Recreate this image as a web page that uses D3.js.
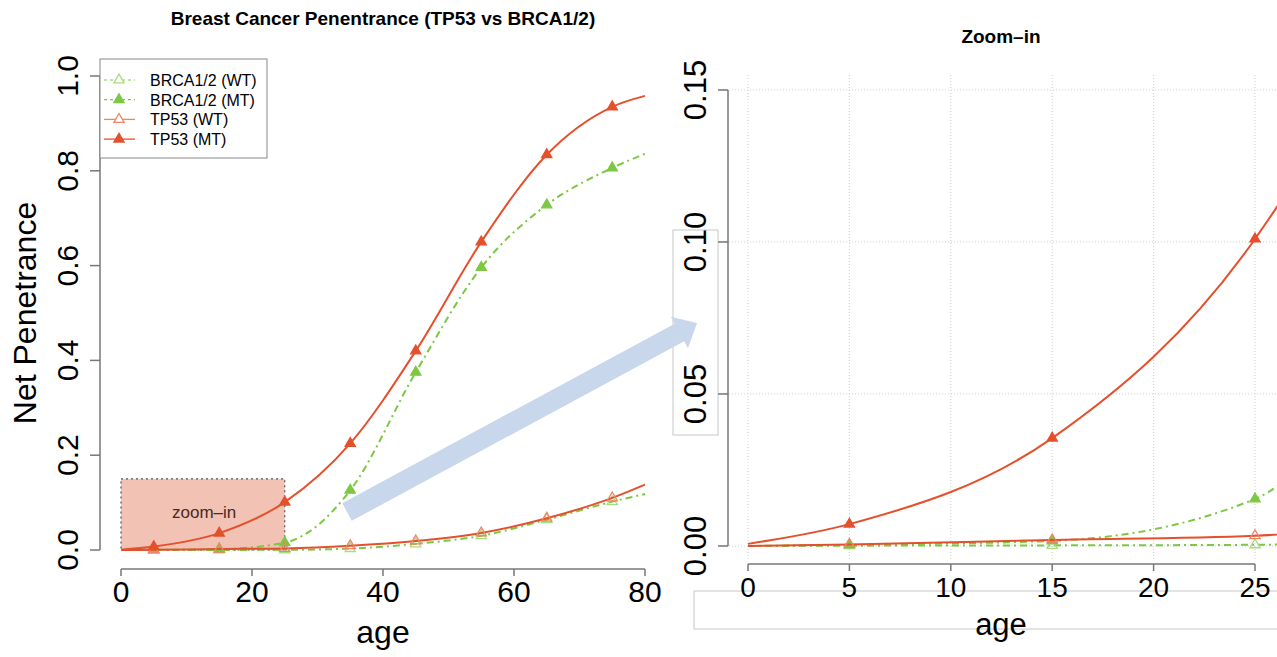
<!DOCTYPE html>
<html>
<head>
<meta charset="utf-8">
<script src="https://cdn.jsdelivr.net/npm/d3@7"></script>
<style>
body { margin: 0; background: #fff; }
text { font-family: "Liberation Sans", Arial, Helvetica, sans-serif; }
</style>
</head>
<body>
<div class="main"></div>
<script>
// data (age -> net penetrance)
var ages = [0, 5, 15, 25, 35, 45, 55, 65, 75, 80];
var markerAges = [5, 15, 25, 35, 45, 55, 65, 75];
var brcaWT = [0, 0.0001, 0.0002, 0.0004, 0.003, 0.013, 0.030, 0.064, 0.102, 0.118];
var brcaMT = [0, 0.0004, 0.0017, 0.0155, 0.126, 0.375, 0.596, 0.728, 0.806, 0.836];
var tp53WT = [0, 0.0005, 0.002, 0.0034, 0.009, 0.019, 0.036, 0.067, 0.110, 0.138];
var tp53MT = [0.0007, 0.0072, 0.0355, 0.101, 0.225, 0.42, 0.65, 0.834, 0.935, 0.958];
var legendLabels = ["BRCA1/2 (WT)", "BRCA1/2 (MT)", "TP53 (WT)", "TP53 (MT)"];
var leftXTicks = [0, 20, 40, 60, 80];
var leftYTicks = [0, 0.2, 0.4, 0.6, 0.8, 1.0];
var rightXTicks = [0, 5, 10, 15, 20, 25];
var rightYTicks = [0, 0.05, 0.10, 0.15];

var red = "#e5502c", redLight = "#ef8467", green = "#7cc843", greenLight = "#a9dc80";
var dotDash = "7,4,2,4";

var series = [
	{name: legendLabels[0], values: brcaWT, color: green, mcolor: greenLight, open: true, dash: dotDash},
	{name: legendLabels[1], values: brcaMT, color: green, mcolor: green, open: false, dash: dotDash},
	{name: legendLabels[2], values: tp53WT, color: red, mcolor: redLight, open: true, dash: null},
	{name: legendLabels[3], values: tp53MT, color: red, mcolor: red, open: false, dash: null}
];

var width = 1277, height = 657;
var svg = d3.select(".main").append("svg")
	.attr("width", width)
	.attr("height", height);

// scales for both panels
var xLeft = d3.scaleLinear().domain([0, 80]).range([121, 645]);
var yLeft = d3.scaleLinear().domain([0, 1]).range([550, 76]);
var xRight = d3.scaleLinear().domain([0, 25]).range([748, 1255]);
var yRight = d3.scaleLinear().domain([0, 0.15]).range([546, 90]);

var defs = svg.append("defs");
defs.append("clipPath").attr("id", "clipLeft")
	.append("rect").attr("x", 100).attr("y", 60).attr("width", 560).attr("height", 500);
defs.append("clipPath").attr("id", "clipRight")
	.append("rect").attr("x", 728).attr("y", 70).attr("width", 560).attr("height", 485);

// odd boxes that sit in the picture (from the screenshot)
svg.append("rect").attr("x", 673).attr("y", 230).attr("width", 45).attr("height", 205)
	.attr("fill", "none").attr("stroke", "#c8c8c8").attr("stroke-width", 1);
svg.append("rect").attr("x", 694).attr("y", 591).attr("width", 600).attr("height", 38)
	.attr("fill", "none").attr("stroke", "#c8c8c8").attr("stroke-width", 1);

// right panel grid
var grid = svg.append("g").attr("class", "grid");
grid.selectAll("line.v").data(rightXTicks).enter().append("line")
	.attr("x1", function(d) { return xRight(d); }).attr("x2", function(d) { return xRight(d); })
	.attr("y1", 75).attr("y2", 560)
	.attr("stroke", "#cfcfcf").attr("stroke-dasharray", "1,2");
grid.selectAll("line.h").data(rightYTicks).enter().append("line")
	.attr("x1", 720).attr("x2", 1277)
	.attr("y1", function(d) { return yRight(d); }).attr("y2", function(d) { return yRight(d); })
	.attr("stroke", "#cfcfcf").attr("stroke-dasharray", "1,2");

// zoom-in box on the left panel
svg.append("rect")
	.attr("x", xLeft(0)).attr("y", yLeft(0.15))
	.attr("width", xLeft(25) - xLeft(0)).attr("height", yLeft(0) - yLeft(0.15))
	.attr("fill", "#f2c2b4")
	.attr("stroke", "#555").attr("stroke-width", 1.2).attr("stroke-dasharray", "2,3");
svg.append("text")
	.attr("x", xLeft(12.7)).attr("y", 518)
	.attr("text-anchor", "middle")
	.style("font-size", "17px").style("fill", "#4a2a22")
	.text("zoom\u2013in");

// axes drawn R style
function drawAxes(x, y, xTicks, yTicks, xAxisY, yAxisX, yFmt, xFs, yFs) {
	var g = svg.append("g").attr("class", "axes");
	g.append("line").attr("x1", x(xTicks[0])).attr("x2", x(xTicks[xTicks.length - 1]))
		.attr("y1", xAxisY).attr("y2", xAxisY).attr("stroke", "#777").attr("stroke-width", 1.5);
	g.selectAll(".xt").data(xTicks).enter().append("line")
		.attr("x1", function(d) { return x(d); }).attr("x2", function(d) { return x(d); })
		.attr("y1", xAxisY).attr("y2", xAxisY + 7).attr("stroke", "#777").attr("stroke-width", 1.5);
	g.selectAll(".xl").data(xTicks).enter().append("text")
		.attr("x", function(d) { return x(d); }).attr("y", xAxisY + 33)
		.attr("text-anchor", "middle").style("font-size", xFs + "px")
		.text(function(d) { return d; });
	g.append("line").attr("x1", yAxisX).attr("x2", yAxisX)
		.attr("y1", y(yTicks[0])).attr("y2", y(yTicks[yTicks.length - 1]))
		.attr("stroke", "#777").attr("stroke-width", 1.5);
	g.selectAll(".yt").data(yTicks).enter().append("line")
		.attr("x1", yAxisX - 10).attr("x2", yAxisX)
		.attr("y1", function(d) { return y(d); }).attr("y2", function(d) { return y(d); })
		.attr("stroke", "#777").attr("stroke-width", 1.5);
	g.selectAll(".yl").data(yTicks).enter().append("text")
		.attr("transform", function(d) { return "translate(" + (yAxisX - 22) + "," + y(d) + ") rotate(-90)"; })
		.attr("text-anchor", "middle").style("font-size", yFs + "px")
		.text(yFmt);
}
drawAxes(xLeft, yLeft, leftXTicks, leftYTicks, 569, 100, d3.format(".1f"), 30, 30);
drawAxes(xRight, yRight, rightXTicks, rightYTicks, 564, 728, d3.format(".2f"), 28, 31);

// lines and markers
var triangle = d3.symbol().type(d3.symbolTriangle).size(45);
function drawSeries(x, y, clipId) {
	var line = d3.line()
		.x(function(d, i) { return x(ages[i]); })
		.y(function(d) { return y(d); })
		.curve(d3.curveMonotoneX);
	var g = svg.append("g").attr("clip-path", "url(#" + clipId + ")");
	series.forEach(function(s) {
		g.append("path")
			.attr("d", line(s.values))
			.attr("fill", "none")
			.attr("stroke", s.color)
			.attr("stroke-width", 2)
			.attr("stroke-dasharray", s.dash);
		g.selectAll(null).data(markerAges).enter().append("path")
			.attr("d", triangle)
			.attr("transform", function(a) { return "translate(" + x(a) + "," + y(s.values[ages.indexOf(a)]) + ")"; })
			.attr("fill", s.open ? "none" : s.mcolor)
			.attr("stroke", s.mcolor)
			.attr("stroke-width", 1.3);
	});
}
drawSeries(xLeft, yLeft, "clipLeft");
drawSeries(xRight, yRight, "clipRight");

// legend
var legend = svg.append("g").attr("class", "legend");
legend.append("rect").attr("x", 100).attr("y", 59).attr("width", 167).attr("height", 99)
	.attr("fill", "#fff").attr("stroke", "#888").attr("stroke-width", 1);
series.forEach(function(s, i) {
	var ly = 80 + i * 19.7;
	legend.append("line").attr("x1", 104).attr("x2", 135).attr("y1", ly).attr("y2", ly)
		.attr("stroke", s.open ? s.mcolor : s.color).attr("stroke-width", 1.3)
		.attr("stroke-dasharray", s.dash ? "3,3" : null);
	legend.append("path").attr("d", triangle)
		.attr("transform", "translate(119," + ly + ")")
		.attr("fill", s.open ? "#fff" : s.mcolor).attr("stroke", s.mcolor).attr("stroke-width", 1.3);
	legend.append("text").attr("x", 150).attr("y", ly + 6)
		.style("font-size", "16px").text(s.name);
});

// blue arrow from the zoom box to the zoom panel
var ax0 = 347, ay0 = 512, ax1 = 697, ay1 = 323;
var angle = Math.atan2(ay1 - ay0, ax1 - ax0) * 180 / Math.PI;
var len = Math.sqrt((ax1 - ax0) * (ax1 - ax0) + (ay1 - ay0) * (ay1 - ay0));
svg.append("path")
	.attr("transform", "translate(" + ax0 + "," + ay0 + ") rotate(" + angle + ")")
	.attr("d", "M0,-10 L" + (len - 20) + ",-10 L" + (len - 20) + ",-18 L" + len + ",0 L" + (len - 20) + ",18 L" + (len - 20) + ",10 L0,10 Z")
	.attr("fill", "#c9d7ec");

// titles and axis labels
svg.append("text").attr("x", 383).attr("y", 25).attr("text-anchor", "middle")
	.style("font-size", "19px").style("font-weight", "bold").text("Breast Cancer Penentrance (TP53 vs BRCA1/2)");
svg.append("text").attr("x", 1001).attr("y", 43).attr("text-anchor", "middle")
	.style("font-size", "19px").style("font-weight", "bold").text("Zoom\u2013in");
svg.append("text").attr("x", 383).attr("y", 643).attr("text-anchor", "middle")
	.style("font-size", "32px").text("age");
svg.append("text").attr("x", 1001).attr("y", 635).attr("text-anchor", "middle")
	.style("font-size", "31px").text("age");
svg.append("text").attr("transform", "translate(36,313) rotate(-90)").attr("text-anchor", "middle")
	.style("font-size", "32px").text("Net Penetrance");
</script>
</body>
</html>
